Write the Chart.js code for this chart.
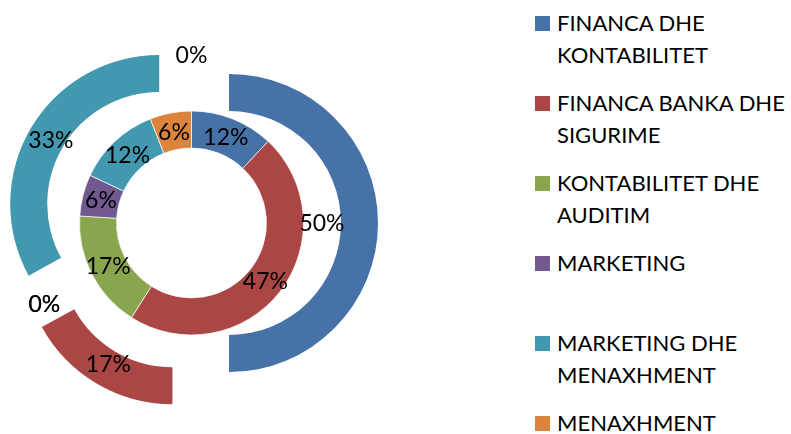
<!DOCTYPE html>
<html>
<head>
<meta charset="utf-8">
<script src="https://cdn.jsdelivr.net/npm/chart.js@4.4.0/dist/chart.umd.min.js"></script>
<style>
  html, body { margin: 0; padding: 0; background: #fff; width: 791px; height: 434px; overflow: hidden; }
  #chartBox { position: absolute; left: 0; top: 0; width: 383px; height: 434px; }
  #legend { position: absolute; left: 535px; top: 0; width: 256px; height: 434px; font-family: Lato, "Open Sans", sans-serif; }
  .swatch { position: absolute; left: 0; width: 15px; height: 15px; }
  .text { position: absolute; left: 22px; font-size: 22px; line-height: 32px; color: #000; white-space: nowrap; }
</style>
</head>
<body>
<div id="chartBox"><canvas id="donut"></canvas></div>
<div id="legend"></div>
<script>
// Kategoriat (legendan rivit) ja arvot
const categories = [
  ["FINANCA DHE", "KONTABILITET"],
  ["FINANCA BANKA DHE", "SIGURIME"],
  ["KONTABILITET DHE", "AUDITIM"],
  ["MARKETING"],
  ["MARKETING DHE", "MENAXHMENT"],
  ["MENAXHMENT"],
];
const outerValues = [50, 17, 0, 0, 33, 0];
const innerValues = [12, 47, 17, 6, 12, 6];
const colors = ["#4672A8", "#AA4643", "#89A54E", "#71588F", "#4198AF", "#DB843D"];

// Chart.js kasvattaa irrotetun sektorin sädettä ja kaventaa kulmaa,
// palautetaan renkaan leveys ja sektorin kulma ennalleen
const keepRingWidth = {
  id: "keepRingWidth",
  afterDatasetUpdate(chart, args) {
    args.meta.data.forEach((arc) => {
      const off = (arc.options.offset || 0) / 4;
      if (!off || !arc.circumference) return;
      const fix = 1 - Math.sin(Math.min(Math.PI, arc.circumference));
      const radiusOffset = off * fix;
      const outer = arc.outerRadius;
      arc.outerRadius -= radiusOffset;
      arc.innerRadius -= radiusOffset;
      const trim = radiusOffset / (2 * Math.PI * outer);
      arc.startAngle -= trim;
      arc.endAngle += trim;
    });
  },
};

// Prosenttiluvut sektoreiden päälle
const sliceLabels = {
  id: "sliceLabels",
  afterDatasetsDraw(chart) {
    const ctx = chart.ctx;
    ctx.save();
    ctx.font = "23px Lato";
    ctx.fillStyle = "#000";
    ctx.textAlign = "center";
    ctx.textBaseline = "middle";
    chart.data.datasets.forEach((ds, di) => {
      const meta = chart.getDatasetMeta(di);
      const total = ds.data.reduce((a, b) => a + b, 0);
      meta.data.forEach((arc, i) => {
        const mid = (arc.startAngle + arc.endAngle) / 2;
        const shift = (arc.options.offset || 0) / 4;
        const r = (arc.innerRadius + arc.outerRadius) / 2;
        const x = arc.x + Math.cos(mid) * (shift + r);
        const y = arc.y + Math.sin(mid) * (shift + r) + 1;
        ctx.fillText(Math.round((ds.data[i] / total) * 100) + "%", x, y);
      });
    });
    ctx.restore();
  },
};

new Chart(document.getElementById("donut"), {
  type: "doughnut",
  data: {
    labels: categories.map((c) => c.join(" ")),
    datasets: [
      { data: outerValues, backgroundColor: colors, borderWidth: 0, offset: 150, hoverOffset: 150 },
      { data: innerValues, backgroundColor: colors, borderWidth: 1, borderColor: "rgba(255,255,255,0.7)" },
    ],
  },
  options: {
    responsive: true,
    maintainAspectRatio: false,
    animation: false,
    radius: 149,
    cutout: "50.3%",
    layout: { padding: { top: 12 } },
    plugins: { legend: { display: false }, tooltip: { enabled: false } },
  },
  plugins: [keepRingWidth, sliceLabels],
});

// Legenda HTML:nä oikealle puolelle
const legend = document.getElementById("legend");
categories.forEach((lines, i) => {
  const centerY = 23 + i * 80;
  const swatch = document.createElement("div");
  swatch.className = "swatch";
  swatch.style.top = (centerY - 7) + "px";
  swatch.style.background = colors[i];
  const text = document.createElement("div");
  text.className = "text";
  text.style.top = (centerY - 16) + "px";
  text.innerHTML = lines.join("<br>");
  legend.appendChild(swatch);
  legend.appendChild(text);
});
</script>
</body>
</html>
